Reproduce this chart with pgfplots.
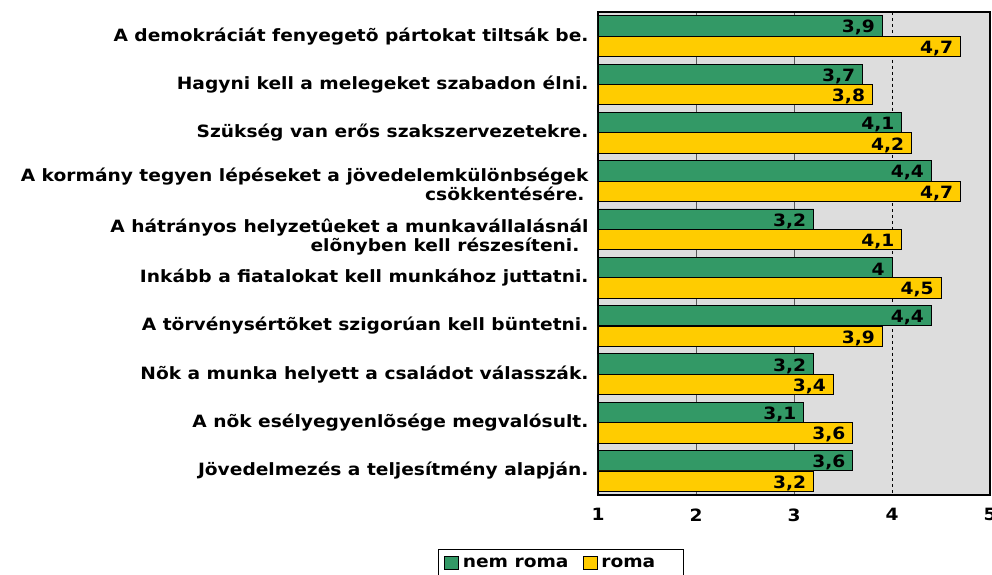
\documentclass[border=0pt]{standalone}
\usepackage{pgfplots}
\pgfplotsset{compat=1.18}
\usepackage{fontspec}
\setmainfont{DejaVu Sans}[FakeStretch=1.1]
\definecolor{cgreen}{HTML}{339966}
\definecolor{cyellow}{HTML}{FFCC00}
\definecolor{cbg}{HTML}{DDDDDD}
\newcommand{\lf}{\bfseries\fontsize{17}{18}\selectfont}
\newcommand{\two}[3]{\raisebox{#3}[\height][\depth]{\begin{tabular}{@{}r@{}}#1\\#2\end{tabular}}}
\begin{document}
\begin{tikzpicture}
\begin{axis}[
  name=ax,
  scale only axis, width=392bp, height=483bp,
  xbar, bar width=0.42,
  y dir=reverse,
  ymin=-0.5, ymax=9.5, xmin=1, xmax=5,
  ytick={0,...,9},
  yticklabels={
    {A demokráciát fenyegetõ pártokat tiltsák be.},
    {Hagyni kell a melegeket szabadon élni.},
    {Szükség van erős szakszervezetekre.},
    {\two{A kormány tegyen lépéseket a jövedelemkülönbségek}{csökkentésére.\kern4bp}{-6bp}},
    {\two{A hátrányos helyzetûeket a munkavállalásnál}{elõnyben kell részesíteni.\kern9bp}{-9bp}},
    {Inkább a fiatalokat kell munkához juttatni.},
    {A törvénysértõket szigorúan kell büntetni.},
    {Nõk a munka helyett a családot válasszák.},
    {A nõk esélyegyenlõsége megvalósult.},
    {Jövedelmezés a teljesítmény alapján.}},
  yticklabel style={font=\lf, xshift=-6bp},
  xtick={1,2,3,5},
  extra x ticks={4},
  extra x tick style={grid style={black, dashed, line width=0.8bp}},
  xticklabel style={font=\bfseries\fontsize{17}{19}\selectfont, yshift=-10bp},
  /pgf/number format/assume math mode=true,
  major tick length=0,
  axis background/.style={fill=cbg},
  axis line style={line width=1.6bp},
  xmajorgrids,
  grid style={gray!70!black, line width=0.8bp},
  nodes near coords,
  /pgf/number format/use comma,
  every node near coord/.append style={anchor=east, font=\lf, inner sep=0pt, xshift=-7bp, yshift=-2bp},
  legend style={at={(-0.094,-0.112)}, anchor=north, legend columns=2, draw=black, line width=1bp,
    font=\lf, inner xsep=5bp, inner ysep=6bp, /tikz/every even column/.append style={column sep=12bp}},
  legend image code/.code={\draw[#1, draw=black, line width=0.8bp] (0bp,-6bp) rectangle (14bp,7bp);},
]
\coordinate (sw) at (axis description cs:0,0);
\addplot[fill=cgreen, draw=black, line width=0.8bp, bar shift=-0.212] coordinates {
  (3.9,0) (3.7,1) (4.1,2) (4.4,3) (3.2,4) (4,5) (4.4,6) (3.2,7) (3.1,8) (3.6,9)};
\addplot[fill=cyellow, draw=black, line width=0.8bp, bar shift=0.212] coordinates {
  (4.7,0) (3.8,1) (4.2,2) (4.7,3) (4.1,4) (4.5,5) (3.9,6) (3.4,7) (3.6,8) (3.2,9)};
\legend{\kern2bp nem roma, \kern2bp roma\kern21bp}
\end{axis}
\pgfresetboundingbox
\path ([xshift=-598bp, yshift=-80bp]sw) rectangle ([xshift=394bp, yshift=495bp]sw);
\end{tikzpicture}
\end{document}
